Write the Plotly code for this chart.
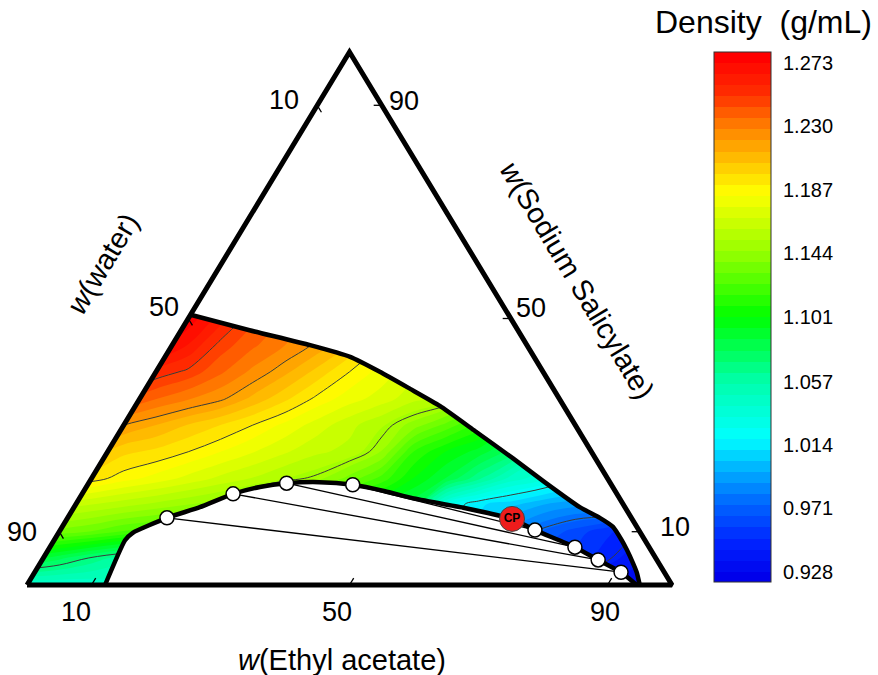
import plotly.graph_objects as go

# ---------------- data ----------------
# density field (g/mL) sampled on the projected ternary plane
grid_x = [0.00, 0.05, 0.10, 0.15, 0.20, 0.25, 0.30, 0.35, 0.40, 0.45, 0.50,
          0.55, 0.60, 0.65, 0.70, 0.75, 0.80, 0.85, 0.90, 0.95, 1.00]
grid_y = [0.00, 0.05, 0.10, 0.15, 0.20, 0.25, 0.30, 0.35, 0.40, 0.45, 0.50, 0.55]
density = [
    [1.040, 1.040, 1.042, 1.045, 1.045, 1.045, 1.040, 1.035, 1.030, 1.020, 1.010, 1.000, 0.990, 0.980, 0.970, 0.960, 0.952, 0.942, 0.935, 0.928, 0.925],
    [1.090, 1.080, 1.068, 1.058, 1.055, 1.050, 1.045, 1.040, 1.035, 1.030, 1.020, 1.010, 1.000, 0.990, 0.980, 0.970, 0.962, 0.955, 0.946, 0.938, 0.930],
    [1.140, 1.135, 1.130, 1.122, 1.118, 1.112, 1.105, 1.100, 1.090, 1.080, 1.070, 1.060, 1.045, 1.030, 1.010, 0.985, 0.972, 0.962, 0.952, 0.945, 0.940],
    [1.170, 1.165, 1.160, 1.155, 1.150, 1.145, 1.140, 1.130, 1.120, 1.110, 1.100, 1.090, 1.080, 1.030, 1.012, 1.005, 0.995, 0.990, 0.990, 0.975, 0.960],
    [1.200, 1.198, 1.194, 1.186, 1.180, 1.173, 1.166, 1.160, 1.153, 1.148, 1.135, 1.120, 1.100, 1.085, 1.065, 1.045, 1.035, 1.020, 1.005, 0.990, 0.975],
    [1.225, 1.220, 1.210, 1.200, 1.196, 1.190, 1.183, 1.176, 1.169, 1.162, 1.158, 1.145, 1.115, 1.100, 1.090, 1.075, 1.050, 1.035, 1.020, 1.005, 0.990],
    [1.240, 1.235, 1.228, 1.220, 1.213, 1.205, 1.198, 1.190, 1.181, 1.172, 1.163, 1.154, 1.142, 1.128, 1.113, 1.095, 1.075, 1.060, 1.045, 1.030, 1.015],
    [1.260, 1.255, 1.250, 1.245, 1.236, 1.229, 1.222, 1.211, 1.200, 1.188, 1.179, 1.172, 1.163, 1.158, 1.140, 1.120, 1.100, 1.080, 1.060, 1.045, 1.030],
    [1.280, 1.275, 1.270, 1.265, 1.255, 1.248, 1.237, 1.226, 1.215, 1.203, 1.190, 1.180, 1.170, 1.163, 1.150, 1.130, 1.110, 1.090, 1.075, 1.060, 1.045],
    [1.290, 1.290, 1.285, 1.280, 1.278, 1.265, 1.247, 1.237, 1.228, 1.218, 1.205, 1.190, 1.180, 1.170, 1.160, 1.140, 1.120, 1.100, 1.085, 1.070, 1.055],
    [1.300, 1.300, 1.300, 1.300, 1.290, 1.278, 1.262, 1.245, 1.235, 1.225, 1.210, 1.200, 1.190, 1.180, 1.170, 1.150, 1.130, 1.110, 1.095, 1.080, 1.065],
    [1.300, 1.300, 1.300, 1.300, 1.300, 1.290, 1.275, 1.260, 1.245, 1.235, 1.220, 1.210, 1.200, 1.190, 1.180, 1.160, 1.140, 1.120, 1.105, 1.090, 1.075],
]
# drawn isolines: level, column span, row span of the sampled grid they cover
line_levels = [1.25, 1.22, 1.19, 1.15, 1.07, 1.02, 0.975, 0.945]
line_cols = [(0, 21), (0, 21), (0, 21), (7, 21), (0, 7), (0, 21), (0, 21), (0, 21)]
line_rows = [(0, 12), (0, 12), (0, 12), (0, 12), (0, 6), (0, 12), (0, 12), (0, 12)]
cbar_ticks = [0.928, 0.971, 1.014, 1.057, 1.101, 1.144, 1.187, 1.230, 1.273]

# binodal curve (mass fractions)
binodal_ea = [0.121, 0.110, 0.115, 0.154, 0.195, 0.234, 0.269, 0.307, 0.357, 0.411,
              0.467, 0.516, 0.604, 0.690, 0.736, 0.814, 0.862, 0.909, 0.945]
binodal_ss = [0.000, 0.084, 0.098, 0.126, 0.146, 0.171, 0.184, 0.191, 0.193, 0.188,
              0.176, 0.163, 0.145, 0.124, 0.103, 0.071, 0.047, 0.024, 0.000]
# upper limit of the one-phase region
upper_ea = [0.000, 0.106, 0.214, 0.287, 0.347, 0.410, 0.472, 0.550, 0.634, 0.706,
            0.784, 0.825, 0.854, 0.880, 0.897, 0.919, 0.934, 0.950]
upper_ss = [0.507, 0.478, 0.450, 0.428, 0.400, 0.368, 0.336, 0.289, 0.238, 0.193,
            0.146, 0.126, 0.109, 0.084, 0.066, 0.041, 0.023, 0.000]
# tie lines: water-rich phase (left) and ester-rich phase (right)
tie_left_ea = [0.154, 0.234, 0.307, 0.411]
tie_left_ss = [0.126, 0.171, 0.191, 0.188]
tie_right_ea = [0.909, 0.862, 0.814, 0.736]
tie_right_ss = [0.024, 0.047, 0.071, 0.103]
cp_ea = [0.690]
cp_ss = [0.124]
tick_values = [0.1, 0.5, 0.9]
tick_text = ["10", "50", "90"]


def proj(ea, ss):
    return ([e + 0.5 * s for e, s in zip(ea, ss)], list(ss))


FONT = "Liberation Sans, Arial, sans-serif"
colorscale = [
    [0.000, "rgb(0,0,235)"],
    [0.067, "rgb(0,35,255)"],
    [0.139, "rgb(0,100,255)"],
    [0.206, "rgb(0,175,255)"],
    [0.267, "rgb(0,255,255)"],
    [0.378, "rgb(0,255,170)"],
    [0.501, "rgb(0,255,0)"],
    [0.620, "rgb(145,255,0)"],
    [0.740, "rgb(255,255,0)"],
    [0.860, "rgb(255,135,0)"],
    [0.930, "rgb(255,45,0)"],
    [1.000, "rgb(255,0,0)"],
]
ZMIN, ZMAX = 0.921, 1.2805

fig = go.Figure()

# filled density contours
fig.add_trace(go.Contour(
    x=grid_x, y=grid_y, z=density, zmin=ZMIN, zmax=ZMAX, zauto=False,
    colorscale=colorscale, autocontour=False,
    contours=dict(start=0.928, end=1.273, size=0.0075, coloring="fill", showlines=False),
    line=dict(width=0, smoothing=1),
    hoverinfo="skip",
    colorbar=dict(
        x=(714 - 2) / 696, xanchor="left", xpad=0,
        y=(617 - 317) / 577, yanchor="middle", ypad=0,
        len=530, lenmode="pixels", thickness=57, thicknessmode="pixels",
        outlinewidth=1, outlinecolor="#333",
        tickvals=cbar_ticks, ticktext=["%.3f" % v for v in cbar_ticks],
        ticks="outside", ticklen=8, tickcolor="rgba(0,0,0,0)",
        tickfont=dict(size=20, family=FONT, color="black"),
    ),
))

# isolines
for lv, (c0, c1), (r0, r1) in zip(line_levels, line_cols, line_rows):
    fig.add_trace(go.Contour(
        x=grid_x[c0:c1], y=grid_y[r0:r1], z=[row[c0:c1] for row in density[r0:r1]],
        autocontour=False, showscale=False,
        contours=dict(start=lv, end=lv, size=1, coloring="none", showlines=True),
        line=dict(color="#3a3a3a", width=1, smoothing=1),
        hoverinfo="skip",
    ))

bx, by = proj(binodal_ea, binodal_ss)
ux, uy = proj(upper_ea, upper_ss)

# white masks outside the one-phase region
mask1_x = [0.0] + ux + [1.2, 1.2, -0.2, -0.2, 0.0]
mask1_y = [0.0] + uy + [0.0, 0.8, 0.8, 0.0, 0.0]
fig.add_trace(go.Scatter(x=mask1_x, y=mask1_y, mode="lines", fill="toself",
                         fillcolor="white", line=dict(width=0, color="white"),
                         hoverinfo="skip", showlegend=False))
fig.add_trace(go.Scatter(x=bx + [bx[0]], y=by + [by[0]], mode="lines", fill="toself",
                         fillcolor="white", line=dict(width=0, color="white"),
                         hoverinfo="skip", showlegend=False))

# tie lines
lx, ly = proj(tie_left_ea, tie_left_ss)
rx, ry = proj(tie_right_ea, tie_right_ss)
tx, ty = [], []
for a, b, c, d in zip(lx, ly, rx, ry):
    tx += [a, c, None]
    ty += [b, d, None]
fig.add_trace(go.Scatter(x=tx, y=ty, mode="lines", line=dict(color="black", width=1.3),
                         hoverinfo="skip", showlegend=False))

# binodal and upper boundary
fig.add_trace(go.Scatter(x=bx, y=by, mode="lines", line=dict(color="black", width=4.5, shape="spline", smoothing=0.5),
                         hoverinfo="skip", showlegend=False))
fig.add_trace(go.Scatter(x=ux, y=uy, mode="lines", line=dict(color="black", width=4.5, shape="spline", smoothing=0.5),
                         hoverinfo="skip", showlegend=False))

# triangle frame
fig.add_trace(go.Scatter(x=[0, 1, 0.5, 0], y=[0, 0, 1, 0], mode="lines",
                         line=dict(color="black", width=5),
                         hoverinfo="skip", showlegend=False))

# axis ticks
tkx, tky = [], []
t = 0.013
for v in tick_values:
    tkx += [v, v + 0.5 * t, None]; tky += [0, t, None]
    x0, y0 = 0.5 * (1 - v), 1 - v
    tkx += [x0, x0 + 0.5 * t, None]; tky += [y0, y0 - t, None]
    x0, y0 = 1 - 0.5 * v, v
    tkx += [x0, x0 - 0.0125, None]; tky += [y0, y0, None]
fig.add_trace(go.Scatter(x=tkx, y=tky, mode="lines", line=dict(color="black", width=1.3),
                         hoverinfo="skip", showlegend=False))

# tie-line end points
fig.add_trace(go.Scatter(x=lx + rx, y=ly + ry, mode="markers",
                         marker=dict(size=14, color="white", line=dict(color="black", width=1.5)),
                         hoverinfo="skip", showlegend=False))
cx, cy = proj(cp_ea, cp_ss)
fig.add_trace(go.Scatter(x=cx, y=cy, mode="markers+text", text=["<b>CP</b>"],
                         textposition="middle center",
                         textfont=dict(size=12, color="black", family=FONT),
                         marker=dict(size=25, color="#ee1c1c", line=dict(color="#444", width=1)),
                         hoverinfo="skip", showlegend=False))

# tick labels (pixel offsets from tick points)
bottom_off = [(-16, -27), (-13, -27), (-3, -27)]
left_off = [(-33, 5), (-24, 12), (-37, 0)]
right_off = [(35, 5), (20, 11), (22, 4)]
ann = []
tf = dict(size=27, family=FONT, color="black")
for v, s, bo, lo, ro in zip(tick_values, tick_text, bottom_off, left_off, right_off):
    ann.append(dict(x=v, y=0, text=s, showarrow=False, xshift=bo[0], yshift=bo[1], font=tf))
    ann.append(dict(x=0.5 * (1 - v), y=1 - v, text=s, showarrow=False, xshift=lo[0], yshift=lo[1], font=tf))
    ann.append(dict(x=1 - 0.5 * v, y=v, text=s, showarrow=False, xshift=ro[0], yshift=ro[1], font=tf))

ann.append(dict(x=(342 - 2) / 696, y=(617 - 660) / 577, xref="paper", yref="paper",
                xanchor="center", yanchor="middle",
                text="<i>w</i>(Ethyl acetate)", showarrow=False,
                font=dict(size=29, family=FONT, color="black")))
ann.append(dict(x=0.1178, y=0.604, text="<i>w</i>(water)", showarrow=False, textangle=-59,
                font=dict(size=29, family=FONT, color="black")))
ann.append(dict(x=0.8527, y=0.5722, text="<i>w</i>(Sodium Salicylate)", showarrow=False, textangle=59,
                font=dict(size=29, family=FONT, color="black")))
ann.append(dict(x=(763 - 2) / 696, y=(617 - 22) / 577, xref="paper", yref="paper",
                xanchor="center", yanchor="middle",
                text="Density&nbsp; (g/mL)", showarrow=False,
                font=dict(size=32, family=FONT, color="black")))

fig.update_layout(
    width=878, height=675,
    margin=dict(l=2, r=180, t=40, b=58),
    paper_bgcolor="white", plot_bgcolor="white",
    showlegend=False,
    xaxis=dict(range=[-0.03876, 1.0403], visible=False, fixedrange=True),
    yaxis=dict(range=[-0.06004, 1.02251], visible=False, fixedrange=True),
    annotations=ann,
)

fig.write_html("out.html")
